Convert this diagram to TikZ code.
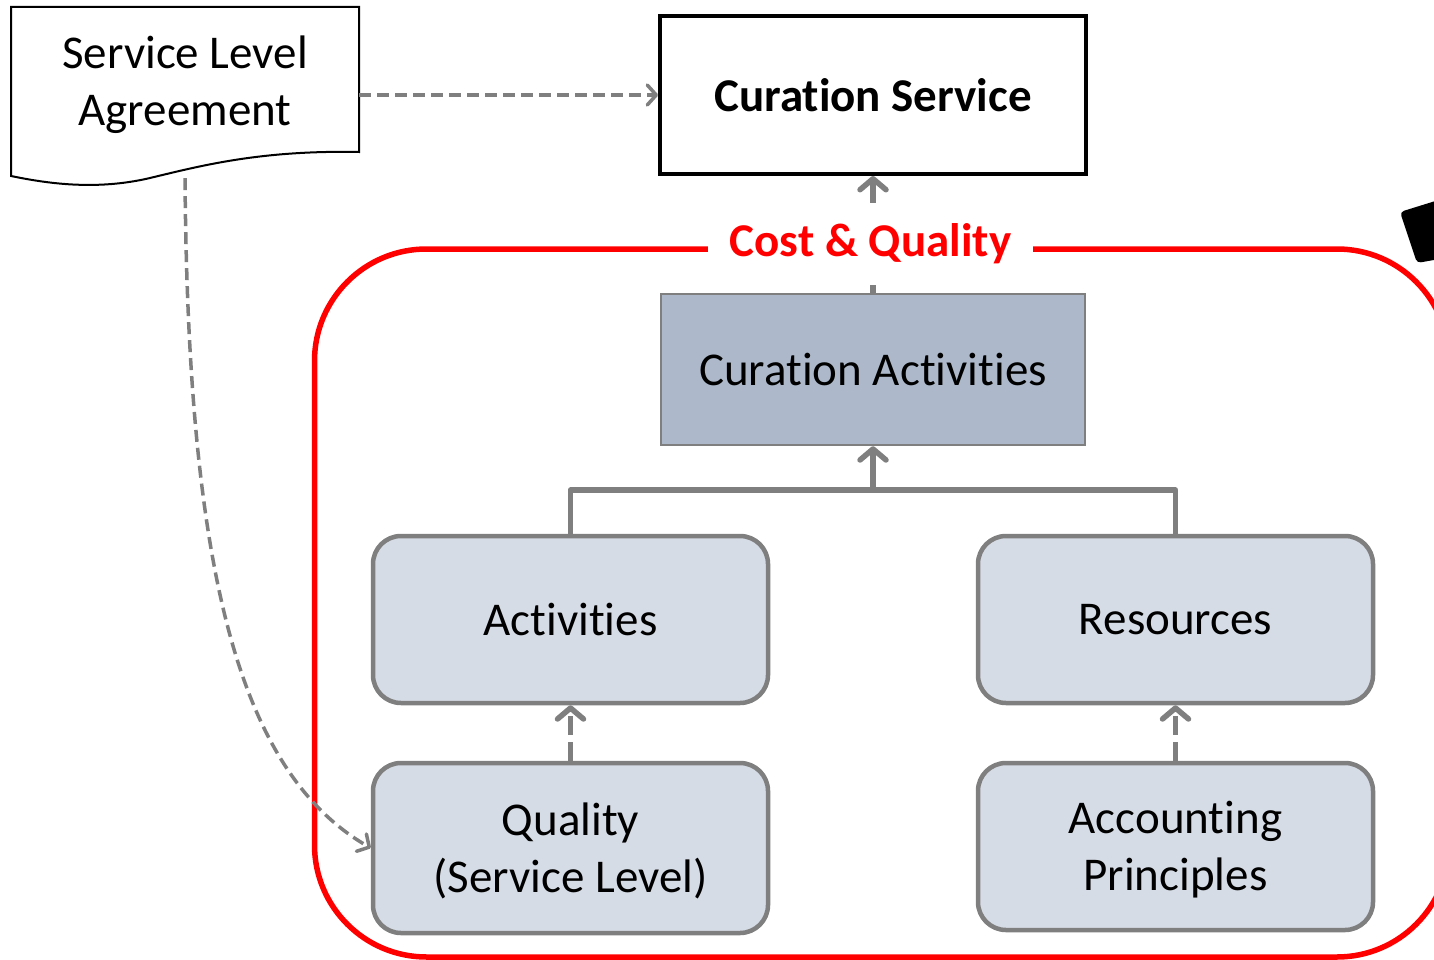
\documentclass[tikz,border=0pt]{standalone}
\usepackage{fontspec}
\setmainfont{Carlito}[Ligatures={NoCommon}]
\usetikzlibrary{arrows.meta}
\definecolor{gline}{HTML}{7F7F7F}
\definecolor{darkfill}{HTML}{ADB9CA}
\definecolor{lightfill}{HTML}{D6DCE5}
\definecolor{redline}{HTML}{FF0000}
\tikzset{
  txt/.style={font=\fontsize{47}{57}\selectfont, align=center},
  roundbox/.style={draw=gline, fill=lightfill, line width=4.5, rounded corners=28, minimum width=395, minimum height=167},
  conn/.style={draw=gline, line width=5.5, line join=round},
  bigtip/.style={-{Straight Barb[length=11,width=26,round]}},
  thindash/.style={draw=gline, line width=3.5, dash pattern=on 12 off 6, -{Straight Barb[length=9,width=20,round]}},
}
\begin{document}
\begin{tikzpicture}[x=1pt,y=-1pt]
\useasboundingbox (0,0) rectangle (1434,960);
\clip (0,0) rectangle (1434,960);
% black fragment top right
\fill[black, rounded corners=4] (1400,212) -- (1445,198) -- (1445,258) -- (1417,263) -- cycle;
% red frame
\draw[redline, line width=5.5, rounded corners=112] (314.5,249) rectangle (1449,957);
% SLA document
\draw[black, line width=2] (11,7) -- (359,7) -- (359,152)
  .. controls (260,150) and (200,166) .. (150,178)
  .. controls (95,191) and (45,183) .. (11,176) -- cycle;
\node[minimum width=348, minimum height=171, inner sep=0] (sla) at (185,92.5) {};
\node[txt] (slat) at (185,85) {Service Level\\Agreement};
% Curation Service
\node[txt, font=\fontsize{47}{57}\selectfont\bfseries, draw=black, line width=4, minimum width=426, minimum height=158] (cs) at (873,95) {Curation Service};
\node[txt, draw=gline, fill=darkfill, line width=2.5, minimum width=424, minimum height=151] (ca) at (873,369.5) {Curation Activities};
% lower boxes
\node[roundbox] (act) at (570.5,619.5) {};
\node[roundbox] (res) at (1175.5,619.5) {};
\node[roundbox, minimum height=170] (qual) at (570.5,848) {};
\node[roundbox, minimum height=167] (acc) at (1175.5,846.5) {};
\node[txt] (actt) at (act.center) {Activities};
\node[txt] (rest) at (res.center) {Resources};
\node[txt] (qualt) at ([yshift=-3]qual.center) {Quality\\(Service Level)};
\node[txt] (acct) at ([yshift=-3]acc.center) {Accounting\\Principles};
% connectors
\coordinate (junc) at (873,490);
\draw[conn] (act.north) |- (junc) -| (res.north);
\draw[conn, bigtip] (junc) -- (ca.south);
\draw[conn, bigtip] (ca.north) -- (cs.south);
\draw[conn, bigtip, dash pattern=on 19 off 7] (qual.north) -- (act.south);
\draw[conn, bigtip, dash pattern=on 19 off 7] (acc.north) -- (res.south);
% label over connector
\node[font=\fontsize{47}{57}\selectfont\bfseries, text=redline, fill=white, inner xsep=22, inner ysep=0, minimum height=82] (cq) at (870.5,244) {Cost \& Quality};
% SLA connectors
\draw[thindash] (sla.east |- cs.west) -- (cs.west);
\draw[thindash] (sla.south) .. controls (188,560) and (235,770) .. (qual.west);
\end{tikzpicture}
\end{document}
